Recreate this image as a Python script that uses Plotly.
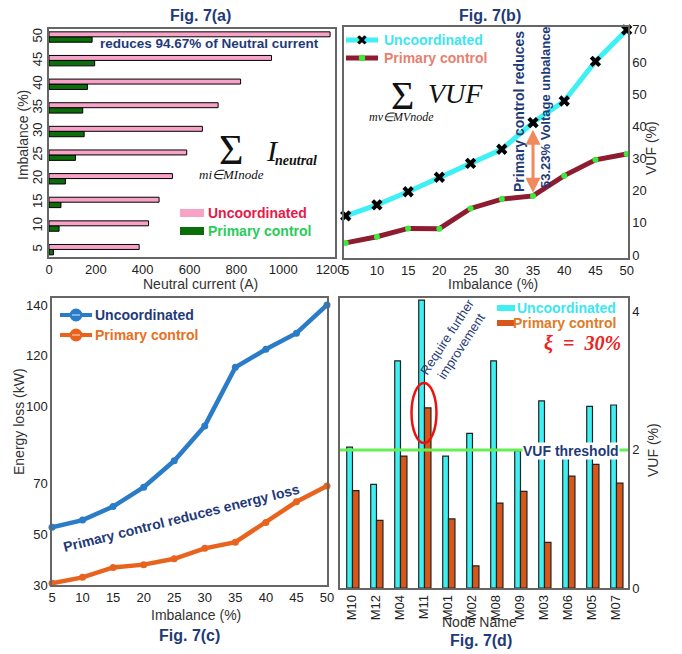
import plotly.graph_objects as go

# page body has an 8px margin; the figure is sized so that it ends at the window edge
OX, OY = 8, 8
W, H = 674, 646


def px(x):
    return (x - OX) / W


def py(y):
    return 1 - (y - OY) / H


# ---------------- data ----------------
imbalance = [5, 10, 15, 20, 25, 30, 35, 40, 45, 50]

# Fig 7(a) neutral current (A)
neutral_uncoordinated = [385, 425, 470, 527, 588, 655, 722, 818, 950, 1200]
neutral_primary = [19, 43, 51, 70, 113, 150, 144, 164, 195, 184]

# Fig 7(b) sum of VUF (%)
vuf_uncoordinated = [12.2, 15.6, 19.7, 24.2, 28.5, 32.9, 41.2, 47.9, 60.2, 70.0]
vuf_primary = [3.8, 5.7, 8.3, 8.2, 14.5, 17.4, 18.4, 24.7, 29.6, 31.4]

# Fig 7(c) energy loss (kW)
loss_uncoordinated = [52.7, 55.5, 60.8, 68.4, 78.8, 92.5, 115.5, 122.6, 128.9, 140.0]
loss_primary = [30.7, 33.0, 36.9, 38.0, 40.3, 44.4, 46.8, 54.6, 62.7, 68.9]
loss_ticks = [30, 50, 70, 100, 120, 140]

# Fig 7(d) VUF per node (%)
nodes = ["M10", "M12", "M04", "M11", "M01", "M02", "M08", "M09", "M03", "M06", "M05", "M07"]
node_uncoordinated = [2.04, 1.50, 3.29, 4.17, 1.91, 2.24, 3.29, 1.99, 2.71, 1.88, 2.63, 2.65]
node_primary = [1.41, 0.98, 1.91, 2.61, 1.00, 0.32, 1.23, 1.40, 0.66, 1.62, 1.79, 1.52]
vuf_threshold = 2

# ---------------- styles ----------------
NAVY = "#1F3A78"
FONT = "Liberation Sans, Arial, sans-serif"
SERIF = "Liberation Serif, Times New Roman, serif"
TICKF = dict(family=FONT, size=13, color="#222")
PINK = "#F7A3C7"
DKGREEN = "#0B6E0B"
CYAN = "#3EEFF4"
MAROON = "#8E1B30"
BLUE = "#2A7CC8"
ORANGE = "#E8641E"
DORANGE = "#D7561A"
FRAME = dict(showline=True, mirror=True, linecolor="#666", linewidth=1.5,
             showgrid=False, zeroline=False, ticks="", ticklen=0, tickfont=TICKF, automargin=False)

fig = go.Figure()

# (a) horizontal bars
fig.add_trace(go.Bar(y=imbalance, x=neutral_primary, orientation="h", width=1.15, offset=-1.05,
                     marker=dict(color=DKGREEN, line=dict(color="black", width=1)),
                     xaxis="x", yaxis="y", showlegend=False))
fig.add_trace(go.Bar(y=imbalance, x=neutral_uncoordinated, orientation="h", width=1.05, offset=0.1,
                     marker=dict(color=PINK, line=dict(color="black", width=1)),
                     xaxis="x", yaxis="y", showlegend=False))

# (b) VUF lines
fig.add_trace(go.Scatter(x=imbalance, y=vuf_uncoordinated, mode="lines+markers",
                         line=dict(color=CYAN, width=5),
                         marker=dict(symbol="x", size=10, color="black"),
                         xaxis="x2", yaxis="y2", showlegend=False, cliponaxis=False))
fig.add_trace(go.Scatter(x=imbalance, y=vuf_primary, mode="lines+markers",
                         line=dict(color=MAROON, width=5),
                         marker=dict(symbol="circle", size=6, color="#3BEA3B"),
                         xaxis="x2", yaxis="y2", showlegend=False, cliponaxis=False))

# (c) energy loss lines
fig.add_trace(go.Scatter(x=imbalance, y=loss_uncoordinated, mode="lines+markers",
                         line=dict(color=BLUE, width=4.5),
                         marker=dict(symbol="circle", size=7, color=BLUE),
                         xaxis="x3", yaxis="y3", showlegend=False, cliponaxis=False))
fig.add_trace(go.Scatter(x=imbalance, y=loss_primary, mode="lines+markers",
                         line=dict(color=ORANGE, width=4.5),
                         marker=dict(symbol="circle", size=7, color=ORANGE),
                         xaxis="x3", yaxis="y3", showlegend=False, cliponaxis=False))

# (d) node bars
fig.add_trace(go.Bar(x=nodes, y=node_uncoordinated, width=0.24, offset=-0.22,
                     marker=dict(color="#3FF0F2", line=dict(color="#222", width=1.2)),
                     xaxis="x4", yaxis="y4", showlegend=False))
fig.add_trace(go.Bar(x=nodes, y=node_primary, width=0.27, offset=0.02,
                     marker=dict(color=DORANGE, line=dict(color="#222", width=1.2)),
                     xaxis="x4", yaxis="y4", showlegend=False))

shapes = []
annotations = []


def text(x, y, s, size=14, color=NAVY, family=FONT, angle=0, xanchor="center", yanchor="middle", **kw):
    annotations.append(dict(xref="paper", yref="paper", x=px(x), y=py(y), text=s, showarrow=False,
                            font=dict(size=size, color=color, family=family), textangle=angle,
                            xanchor=xanchor, yanchor=yanchor, **kw))


def rect(x0, x1, y0, y1, color):
    shapes.append(dict(type="rect", xref="paper", yref="paper", x0=px(x0), x1=px(x1), y0=py(y1), y1=py(y0),
                       fillcolor=color, line=dict(width=0)))


def hline(x0, x1, y, color, width):
    shapes.append(dict(type="line", xref="paper", yref="paper", x0=px(x0), x1=px(x1), y0=py(y), y1=py(y),
                       line=dict(color=color, width=width)))


def dot(cx, cy, r, color):
    shapes.append(dict(type="circle", xref="paper", yref="paper", x0=px(cx - r), x1=px(cx + r),
                       y0=py(cy + r), y1=py(cy - r), fillcolor=color, line=dict(width=0)))


# titles
text(200, 15, "<b>Fig. 7(a)</b>", 16)
text(490, 15, "<b>Fig. 7(b)</b>", 16)
text(189, 635, "<b>Fig. 7(c)</b>", 16)
text(481, 640, "<b>Fig. 7(d)</b>", 16)

# axis titles
text(200, 284, "Neutral current (A)", 14, "#333")
text(23, 135, "Imbalance (%)", 14, "#333", angle=-90)
text(493, 284, "Imbalance (%)", 14, "#333")
text(651, 148, "VUF (%)", 14, "#333", angle=-90)
text(196, 615, "Imbalance (%)", 14, "#333")
text(19, 422, "Energy loss (kW)", 14, "#333", angle=-90)
text(479, 622, "Node Name", 14, "#333")
text(653, 450, "VUF (%)", 14, "#333", angle=-90)

# (a) annotations
text(209, 44, "<b>reduces 94.67% of Neutral current</b>", 13.5)
text(231, 150, "Σ", 42, "#111", SERIF)
text(272, 150, "<i>I</i>", 30, "#111", SERIF)
text(296, 160, "<i><b>neutral</b></i>", 14, "#111", SERIF)
text(231, 174, "<i>mi∈MInode</i>", 13, "#111", SERIF)

# (a) legend
rect(180, 204, 209, 217, PINK)
rect(180, 204, 227, 235, DKGREEN)
text(206, 213, "<b>Uncoordinated</b>", 14, "#E8194A", xanchor="left")
text(206, 231, "<b>Primary control</b>", 14, "#2ACB5A", xanchor="left")

# (b) legend
hline(346, 378, 40, CYAN, 5)
text(362, 40, "✖", 14, "black", "DejaVu Sans")
hline(346, 378, 58, MAROON, 5)
dot(362, 58, 3.2, "#3BEA3B")
text(382, 40, "<b>Uncoordinated</b>", 14, "#3EE6F2", xanchor="left")
text(382, 58, "<b>Primary control</b>", 14, "#E8806F", xanchor="left")

# (b) annotations
text(402, 95, "Σ", 40, "#111", SERIF)
text(455, 94, "<i>VUF</i>", 28, "#111", SERIF)
text(401, 117, "<i>mv∈MVnode</i>", 12, "#111", SERIF)
text(519, 112, "<b>Primary control reduces</b>", 14, angle=-90)
text(545, 107, "<b>53.23% Voltage unbalance</b>", 13, angle=-90)
annotations.append(dict(xref="x2", yref="y2", axref="x2", ayref="y2", x=imbalance[6], y=vuf_primary[6] + 1,
                        ax=imbalance[6], ay=vuf_uncoordinated[6] - 1.8, text="", showarrow=True,
                        arrowhead=2, arrowside="end+start", arrowsize=1, arrowwidth=3, arrowcolor="#F08A5E"))

# (c) legend
hline(60, 92, 315, BLUE, 4)
dot(76, 315, 6.5, BLUE)
hline(72, 80, 315, "#9CC4EA", 1.5)
hline(60, 92, 335, ORANGE, 4)
dot(76, 335, 6.5, ORANGE)
hline(72, 80, 335, "#F5B48F", 1.5)
text(93, 315, "<b>Uncoordinated</b>", 14, NAVY, xanchor="left")
text(93, 335, "<b>Primary control</b>", 14, "#E8701E", xanchor="left")

# (c) annotation
text(181, 518, "<b>Primary control reduces energy loss</b>", 14, angle=-14)

# (d) annotations
shapes.append(dict(type="line", xref="x4 domain", yref="y4", x0=0, x1=1, y0=vuf_threshold, y1=vuf_threshold,
                   line=dict(color="#66EE55", width=3), layer="above"))
text(571, 451, "<b>VUF threshold</b>", 14, bgcolor="white", borderpad=0)
shapes.append(dict(type="circle", xref="x4", yref="y4", x0=2.48, x1=3.52, y0=2.1, y1=2.97,
                   line=dict(color="#EE1111", width=2.5)))
text(454, 342, "Require further<br>improvement", 13, angle=-57)
text(582, 343, "<b><i>ξ  =  30%</i></b>", 20, "#EE2020", SERIF)
rect(497, 515, 305, 311, "#3FF0F2")
rect(497, 515, 320, 326, DORANGE)
text(618, 308, "<b>Uncoordinated</b>", 14, "#3EE6F2", xanchor="right")
text(618, 323, "<b>Primary control</b>", 14, "#E07A28", xanchor="right")

fig.update_layout(
    width=W, height=H, margin=dict(l=0, r=0, t=0, b=0, autoexpand=False),
    paper_bgcolor="white", plot_bgcolor="white",
    font=dict(family=FONT),
    showlegend=False,
    xaxis=dict(domain=[px(49), px(335)], range=[0, 1221], anchor="y",
               tickvals=[0, 200, 400, 600, 800, 1000, 1200], **FRAME),
    yaxis=dict(domain=[py(257), py(29)], range=[3.5, 51.75], anchor="x",
               tickvals=imbalance, tickangle=-90, **FRAME),
    xaxis2=dict(domain=[px(344), px(628)], range=[4.73, 50.21], anchor="y2",
                tickvals=imbalance, **FRAME),
    yaxis2=dict(domain=[py(258), py(27)], range=[-0.9, 70.9], anchor="x2", side="right",
                tickvals=[0, 10, 20, 30, 40, 50, 60, 70], **FRAME),
    xaxis3=dict(domain=[px(52), px(327)], range=[5, 50], anchor="y3",
                tickvals=imbalance, **FRAME),
    yaxis3=dict(domain=[py(585), py(298)], range=[30, 142.75], anchor="x3",
                tickvals=loss_ticks, **FRAME),
    xaxis4=dict(domain=[px(340), px(628)], type="category", range=[-0.5, 11.5], anchor="y4",
                tickangle=-90, **FRAME),
    yaxis4=dict(domain=[py(588), py(298)], range=[0, 4.2], anchor="x4", side="right",
                tickvals=[0, 2, 4], **FRAME),
    shapes=shapes,
    annotations=annotations,
    bargap=0.5,
)

fig.write_html("out.html")
